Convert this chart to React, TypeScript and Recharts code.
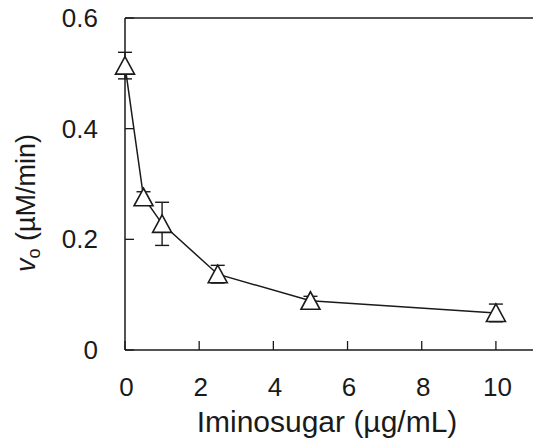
import { ComposedChart, Line, XAxis, YAxis, ErrorBar, ReferenceLine, Label } from 'recharts';

const conc = [0, 0.5, 1, 2.5, 5, 10];
const rate = [0.514, 0.276, 0.228, 0.137, 0.089, 0.067];
const rateErr = [0.024, 0.01, 0.039, 0.016, 0.008, 0.016];
const xTicks = [0, 2, 4, 6, 8, 10];
const yTicks = [0, 0.2, 0.4, 0.6];

const FONT = '"Liberation Sans", Arial, sans-serif';
const INK = '#1a1a1a';

const data = conc.map((x, i) => ({ x, v: rate[i], err: rateErr[i] }));

// open triangle marker, centred on the point
const Triangle = (props: any) => {
  const { cx, cy } = props;
  if (cx == null || cy == null) return null;
  return (
    <polygon
      points={`${cx},${cy - 9} ${cx - 9.5},${cy + 8.5} ${cx + 9.5},${cy + 8.5}`}
      fill="#fff"
      stroke={INK}
      strokeWidth={1.6}
    />
  );
};

// ticks point into the plot
const XTick = ({ x, y, payload }: any) => (
  <g>
    <line x1={x} x2={x} y1={y} y2={y - 9} stroke={INK} strokeWidth={1.3} />
    <text x={x + 1.5} y={y + 46} textAnchor="middle" fontSize={26} fill={INK} fontFamily={FONT}>
      {payload.value}
    </text>
  </g>
);

const YTick = ({ x, y, payload }: any) => (
  <g>
    <line x1={x} x2={x + 9} y1={y} y2={y} stroke={INK} strokeWidth={1.3} />
    <text x={x - 27} y={y + 9} textAnchor="end" fontSize={26} fill={INK} fontFamily={FONT}>
      {payload.value}
    </text>
  </g>
);

const YTitle = ({ viewBox }: any) => {
  const cx = viewBox.x + 35;
  const cy = viewBox.y + viewBox.height / 2 + 88;
  return (
    <text
      x={cx}
      y={cy}
      transform={`rotate(-90 ${cx} ${cy})`}
      textAnchor="start"
      fontSize={27}
      fill={INK}
      fontFamily={FONT}
    >
      <tspan fontStyle="italic">v</tspan>
      <tspan fontSize={18} dy={5}>o</tspan>
      <tspan dy={-5}> (µM/min)</tspan>
    </text>
  );
};

const XTitle = ({ viewBox }: any) => (
  <text
    x={viewBox.x + viewBox.width / 2 - 2}
    y={viewBox.y + 82}
    textAnchor="middle"
    fontSize={30}
    fill={INK}
    fontFamily={FONT}
  >
    Iminosugar (µg/mL)
  </text>
);

export default function App() {
  return (
    <div style={{ position: 'absolute', left: 0, top: 0, background: '#fff' }}>
      <ComposedChart width={533} height={448} data={data} margin={{ top: 18, right: 0, left: 0, bottom: 0 }}>
        <XAxis
          type="number"
          dataKey="x"
          domain={[0, 11]}
          ticks={xTicks}
          height={98}
          tickSize={0}
          tickMargin={0}
          tickLine={false}
          axisLine={{ stroke: INK, strokeWidth: 1.5 }}
          tick={<XTick />}
        >
          <Label content={<XTitle />} />
        </XAxis>
        <YAxis
          type="number"
          domain={[0, 0.6]}
          ticks={yTicks}
          width={125}
          tickSize={0}
          tickMargin={0}
          tickLine={false}
          axisLine={{ stroke: INK, strokeWidth: 1.5 }}
          tick={<YTick />}
        >
          <Label content={<YTitle />} />
        </YAxis>
        <ReferenceLine y={0.6} stroke={INK} strokeWidth={1.5} />
        <Line
          type="linear"
          dataKey="v"
          stroke={INK}
          strokeWidth={1.5}
          dot={<Triangle />}
          activeDot={false}
          isAnimationActive={false}
        >
          <ErrorBar dataKey="err" width={7} stroke={INK} strokeWidth={1.4} direction="y" />
        </Line>
      </ComposedChart>
    </div>
  );
}
